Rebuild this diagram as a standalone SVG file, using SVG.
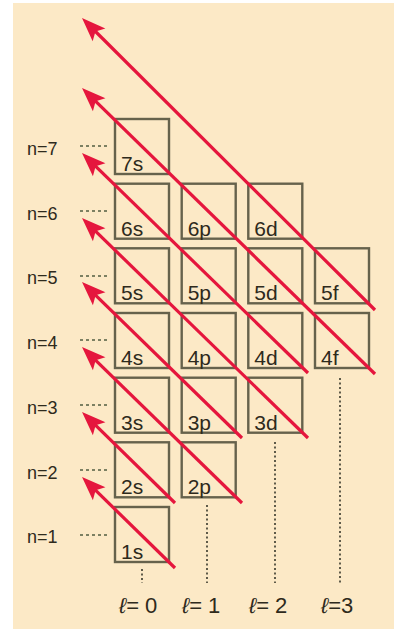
<svg xmlns="http://www.w3.org/2000/svg" width="394" height="633" viewBox="0 0 394 633">
<style>
.box{fill:none;stroke:#66624c;stroke-width:2.4}
.bl{font-family:"Liberation Sans",Arial,sans-serif;font-size:21px;fill:#2e2a1c}
.nl{font-family:"Liberation Sans",Arial,sans-serif;font-size:18px;fill:#2e2a1c}
.ll{font-family:"Liberation Sans",Arial,sans-serif;font-size:22px;fill:#2e2a1c}
.hd{fill:none;stroke:#7c8062;stroke-width:2.2;stroke-dasharray:3 3}
.vd{fill:none;stroke:#4e4c3c;stroke-width:1.8;stroke-dasharray:2 2.5}
.ar{fill:none;stroke:#e5163d;stroke-width:3.2;marker-end:url(#ah)}
</style>
<defs>
<marker id="ah" markerUnits="userSpaceOnUse" markerWidth="40" markerHeight="40" viewBox="-20 -20 40 40" refX="0" refY="0" orient="auto" overflow="visible">
<path d="M12,0 L-12,-9 L-7,0 L-12,9 Z" fill="#e5163d"/>
</marker>
</defs>
<rect x="13" y="3" width="381" height="626" fill="#fce9c6"/>
<g id="n-labels">
<text class="nl" x="27" y="155">n=7</text>
<text class="nl" x="27" y="220">n=6</text>
<text class="nl" x="27" y="284">n=5</text>
<text class="nl" x="27" y="349">n=4</text>
<text class="nl" x="27" y="414">n=3</text>
<text class="nl" x="27" y="479">n=2</text>
<text class="nl" x="27" y="543">n=1</text>
<path class="hd" d="M80,146H110M80,211H110M80,276H110M80,340H110M80,405H110M80,470H110M80,535H110"/>
</g>
<g id="l-labels">
<path class="vd" d="M142,569V583M207,505V583M275,442V583M340,378V583"/>
<text class="ll" x="119" y="613"><tspan font-style="italic">ℓ</tspan>= 0</text>
<text class="ll" x="182" y="613"><tspan font-style="italic">ℓ</tspan>= 1</text>
<text class="ll" x="249" y="613"><tspan font-style="italic">ℓ</tspan>= 2</text>
<text class="ll" x="321" y="613"><tspan font-style="italic">ℓ</tspan>=3</text>
</g>
<g id="n7s"><rect class="box" x="115" y="119" width="54" height="55"/><text class="bl" x="121" y="171">7s</text></g>
<g id="n6s"><rect class="box" x="115" y="183.7" width="54" height="55"/><text class="bl" x="121" y="235.7">6s</text></g>
<g id="n6p"><rect class="box" x="181.7" y="183.7" width="54" height="55"/><text class="bl" x="187.7" y="235.7">6p</text></g>
<g id="n6d"><rect class="box" x="248.3" y="183.7" width="54" height="55"/><text class="bl" x="254.3" y="235.7">6d</text></g>
<g id="n5s"><rect class="box" x="115" y="248.3" width="54" height="55"/><text class="bl" x="121" y="300.3">5s</text></g>
<g id="n5p"><rect class="box" x="181.7" y="248.3" width="54" height="55"/><text class="bl" x="187.7" y="300.3">5p</text></g>
<g id="n5d"><rect class="box" x="248.3" y="248.3" width="54" height="55"/><text class="bl" x="254.3" y="300.3">5d</text></g>
<g id="n5f"><rect class="box" x="315" y="248.3" width="54" height="55"/><text class="bl" x="321" y="300.3">5f</text></g>
<g id="n4s"><rect class="box" x="115" y="313" width="54" height="55"/><text class="bl" x="121" y="365">4s</text></g>
<g id="n4p"><rect class="box" x="181.7" y="313" width="54" height="55"/><text class="bl" x="187.7" y="365">4p</text></g>
<g id="n4d"><rect class="box" x="248.3" y="313" width="54" height="55"/><text class="bl" x="254.3" y="365">4d</text></g>
<g id="n4f"><rect class="box" x="315" y="313" width="54" height="55"/><text class="bl" x="321" y="365">4f</text></g>
<g id="n3s"><rect class="box" x="115" y="377.7" width="54" height="55"/><text class="bl" x="121" y="429.7">3s</text></g>
<g id="n3p"><rect class="box" x="181.7" y="377.7" width="54" height="55"/><text class="bl" x="187.7" y="429.7">3p</text></g>
<g id="n3d"><rect class="box" x="248.3" y="377.7" width="54" height="55"/><text class="bl" x="254.3" y="429.7">3d</text></g>
<g id="n2s"><rect class="box" x="115" y="442.3" width="54" height="55"/><text class="bl" x="121" y="494.3">2s</text></g>
<g id="n2p"><rect class="box" x="181.7" y="442.3" width="54" height="55"/><text class="bl" x="187.7" y="494.3">2p</text></g>
<g id="n1s"><rect class="box" x="115" y="507" width="54" height="55"/><text class="bl" x="121" y="559">1s</text></g>
<g id="connectors">
<path class="ar" d="M175,568L90.6,485.4"/>
<path class="ar" d="M175,503L90.6,420.4"/>
<path class="ar" d="M242,503L90.6,355.4"/>
<path class="ar" d="M242,438L90.6,290.4"/>
<path class="ar" d="M308,438L90.6,226.4"/>
<path class="ar" d="M308,373L90.6,161.4"/>
<path class="ar" d="M375,374L90.6,96.4"/>
<path class="ar" d="M375,310L90.5,26.5"/>
</g>
</svg>
